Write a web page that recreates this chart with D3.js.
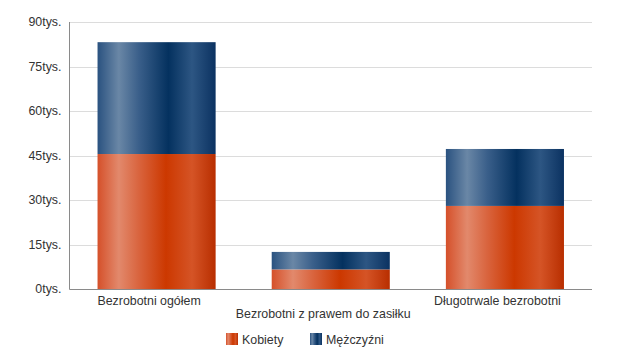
<!DOCTYPE html>
<html><head><meta charset="utf-8">
<script src="https://cdn.jsdelivr.net/npm/d3@7"></script>
<style>body{margin:0;background:#fff}svg{display:block;font-family:"Liberation Sans",Arial,sans-serif}</style>
</head><body>
<svg id="c" width="637" height="360"></svg>
<script>
const categories = ["Bezrobotni ogółem", "Bezrobotni z prawem do zasiłku", "Długotrwale bezrobotni"];
const kobiety = [45.5, 6.6, 28.0];
const mezczyzni = [37.7, 5.9, 19.2];
const seriesNames = ["Kobiety", "Mężczyźni"];
const yTicks = [0, 15, 30, 45, 60, 75, 90];

const svg = d3.select("#c");
const m = {l: 69.5, r: 592, t: 22, b: 289};
const x = d3.scaleBand().domain(categories).range([m.l, m.r]).paddingInner(0.322).paddingOuter(0.161);
const y = d3.scaleLinear().domain([0, 90]).range([m.b, m.t]);

const defs = svg.append("defs");
function grad(id, stops){
  const g = defs.append("linearGradient").attr("id", id).attr("x1","0").attr("x2","1").attr("y1","0").attr("y2","0");
  stops.forEach(s => g.append("stop").attr("offset", s[0]).attr("stop-color", s[1]));
}
grad("gO", [[0,"#d5502a"],[0.18,"#e2896c"],[0.35,"#d9643e"],[0.58,"#cc3800"],[0.8,"#d55426"],[1,"#b82e00"]]);
grad("gB", [[0,"#2a5280"],[0.18,"#6a87a6"],[0.35,"#3a5f8a"],[0.6,"#04315f"],[0.8,"#2d5683"],[1,"#0b3261"]]);

// gridlines
svg.append("g").selectAll("line").data(yTicks.filter(d=>d>0)).join("line")
  .attr("x1", m.l).attr("x2", m.r).attr("y1", d=>Math.round(y(d))+0.5).attr("y2", d=>Math.round(y(d))+0.5)
  .attr("stroke", "#dcdcdc").attr("stroke-width", 1);

// bars
const stacked = d3.stack().keys([0,1])(categories.map((c,i)=>({c, 0:kobiety[i], 1:mezczyzni[i]})));
const fills = ["url(#gO)", "url(#gB)"];
stacked.forEach((s, si) => {
  svg.append("g").selectAll("rect").data(s).join("rect")
    .attr("x", d => x(d.data.c)).attr("width", x.bandwidth())
    .attr("y", d => y(d[1])).attr("height", d => y(d[0]) - y(d[1]))
    .attr("fill", fills[si]);
});

// axes lines
svg.append("line").attr("x1", m.l).attr("x2", m.l).attr("y1", m.t).attr("y2", m.b+0.5).attr("stroke", "#8a8a8a");
svg.append("line").attr("x1", m.l).attr("x2", m.r).attr("y1", m.b+0.5).attr("y2", m.b+0.5).attr("stroke", "#8a8a8a");

// y tick labels
svg.append("g").selectAll("text").data(yTicks).join("text")
  .attr("x", 61.5).attr("y", d => y(d)).attr("dy", "0.34em").attr("text-anchor", "end")
  .attr("font-size", 12.4).attr("fill", "#333").text(d => d + "tys.");

// category labels (staggered)
svg.append("g").selectAll("text").data(categories).join("text")
  .attr("x", d => x(d) + x.bandwidth()/2 - 7.5).attr("y", (d,i) => i % 2 ? 317.5 : 305)
  .attr("text-anchor", "middle").attr("font-size", 12.4).attr("fill", "#333").text(d => d);

// legend
const leg = svg.append("g");
const lx = [226, 310];
seriesNames.forEach((n, i) => {
  leg.append("rect").attr("x", lx[i]).attr("y", 333).attr("width", 12).attr("height", 12).attr("fill", fills[i]);
  leg.append("text").attr("x", lx[i] + 16).attr("y", 344).attr("font-size", 12.4).attr("fill", "#333").text(n);
});
</script>
</body></html>
